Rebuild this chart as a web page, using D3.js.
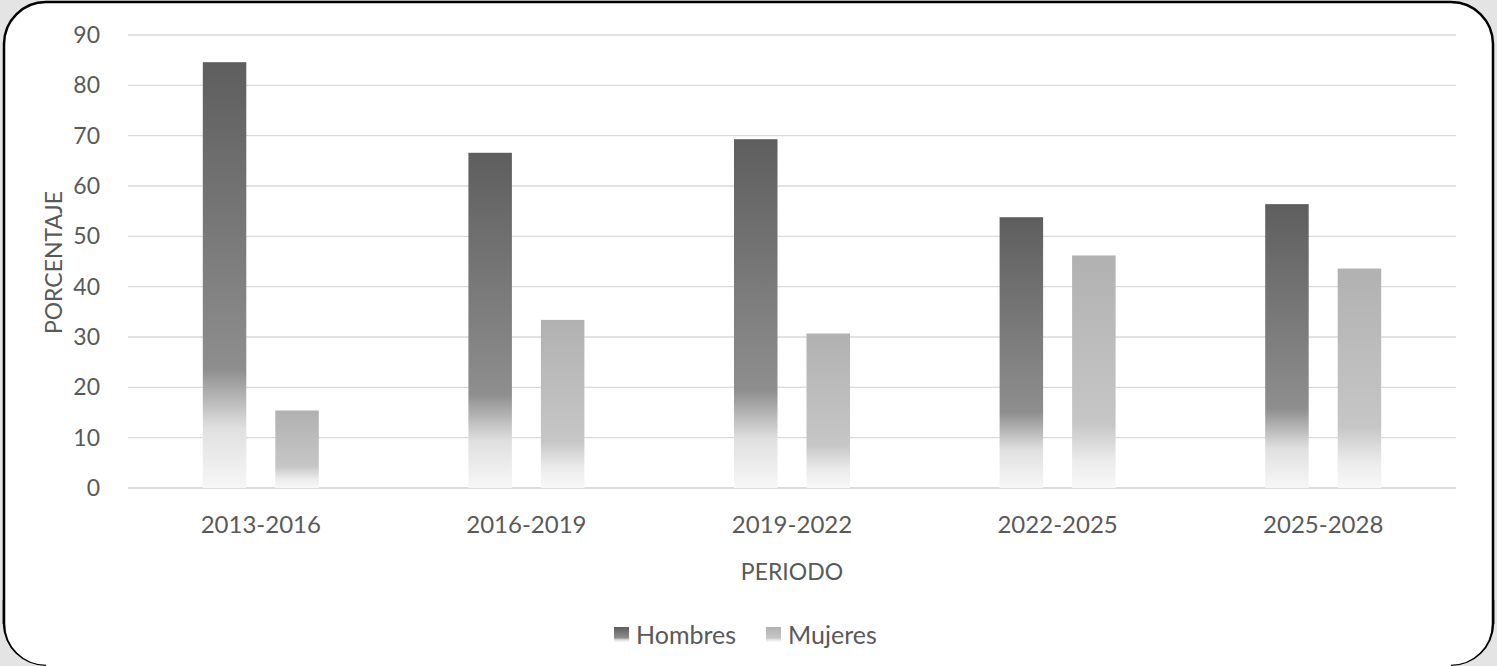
<!DOCTYPE html>
<meta charset="utf-8">
<script src="https://d3js.org/d3.v7.min.js"></script>
<style>
  body { margin: 0; background: #e4e4e4; }
  text { font-family: Lato, "Open Sans", sans-serif; fill: #595959; }
</style>
<div id="chart"></div>
<script>
  // data
  var periodos = ["2013-2016", "2016-2019", "2019-2022", "2022-2025", "2025-2028"];
  var series = ["Hombres", "Mujeres"];
  var hombres = [84.6, 66.6, 69.3, 53.8, 56.4];
  var mujeres = [15.4, 33.4, 30.7, 46.2, 43.6];
  var yTicks = [0, 10, 20, 30, 40, 50, 60, 70, 80, 90];

  var W = 1497, H = 666;
  var margin = { top: 35, right: 41, bottom: 178, left: 128 },
    width = W - margin.left - margin.right,
    height = H - margin.top - margin.bottom;

  var svg = d3.select("#chart").append("svg")
    .attr("width", W).attr("height", H);

  // gradients (dark at top, fading out at the bottom)
  var defs = svg.append("defs");
  var grads = {
    Hombres: [["0%", "#5e5e5e"], ["72%", "#8e8e8e"], ["86%", "#e0e0e0"], ["100%", "#f7f7f7"]],
    Mujeres: [["0%", "#b1b1b1"], ["72%", "#c6c6c6"], ["88%", "#ebebeb"], ["100%", "#f8f8f8"]]
  };
  series.forEach(function (s) {
    var g = defs.append("linearGradient").attr("id", "g-" + s)
      .attr("x1", 0).attr("y1", 0).attr("x2", 0).attr("y2", 1);
    grads[s].forEach(function (st) {
      g.append("stop").attr("offset", st[0]).attr("stop-color", st[1]);
    });
  });

  // card with rounded corners
  svg.append("rect")
    .attr("x", 4).attr("y", 2).attr("width", W - 8).attr("height", H + 30)
    .attr("rx", 42).attr("ry", 42)
    .attr("fill", "#fff").attr("stroke", "#000").attr("stroke-width", 2.5);
  svg.append("rect")
    .attr("x", 4).attr("y", 600).attr("width", W - 8).attr("height", 62)
    .attr("fill", "#fff");
  svg.append("path")
    .attr("d", "M4,600 V624 A42,42 0 0 0 46,666 M" + (W - 4) + ",600 V624 A42,42 0 0 1 " + (W - 46) + ",666")
    .attr("fill", "none").attr("stroke", "#000").attr("stroke-width", 2.5);
  // background outside the lower arcs
  svg.append("path")
    .attr("d", "M0,624 H2.75 A43.25,43.25 0 0 0 46,666 H0 Z M" + W + ",624 H" + (W - 2.75) + " A43.25,43.25 0 0 1 " + (W - 46) + ",666 H" + W + " Z")
    .attr("fill", "#e4e4e4");

  var g = svg.append("g")
    .attr("transform", "translate(" + margin.left + "," + margin.top + ")");

  var x = d3.scaleBand().domain(periodos).range([0, width]);
  var xIn = d3.scaleBand().domain(series).range([0, 116]).paddingInner(0.4);
  var y = d3.scaleLinear().domain([0, 90]).range([height, 0]);

  // gridlines
  g.selectAll(".grid").data(yTicks).enter().append("line")
    .attr("x1", 0).attr("x2", width)
    .attr("y1", function (d) { return y(d); })
    .attr("y2", function (d) { return y(d); })
    .attr("stroke", function (d) { return d === 0 ? "#d0d0d0" : "#d9d9d9"; })
    .attr("stroke-width", 1.3);

  // y tick labels
  g.selectAll(".ytick").data(yTicks).enter().append("text")
    .attr("x", -28)
    .attr("y", function (d) { return y(d); })
    .attr("dy", "0.35em")
    .attr("text-anchor", "end")
    .style("font-size", "23px")
    .text(function (d) { return d; });

  // bars
  var rows = periodos.map(function (p, i) {
    return { periodo: p, Hombres: hombres[i], Mujeres: mujeres[i] };
  });
  var groups = g.selectAll(".grp").data(rows).enter().append("g")
    .attr("transform", function (d) {
      return "translate(" + (x(d.periodo) + (x.bandwidth() - 116) / 2) + ",0)";
    });
  groups.selectAll("rect")
    .data(function (d) { return series.map(function (s) { return { s: s, v: d[s] }; }); })
    .enter().append("rect")
    .attr("x", function (d) { return xIn(d.s); })
    .attr("width", xIn.bandwidth())
    .attr("y", function (d) { return y(d.v); })
    .attr("height", function (d) { return height - y(d.v); })
    .attr("fill", function (d) { return "url(#g-" + d.s + ")"; });

  // x tick labels
  g.selectAll(".xtick").data(periodos).enter().append("text")
    .attr("x", function (d) { return x(d) + x.bandwidth() / 2; })
    .attr("y", height + 45)
    .attr("text-anchor", "middle")
    .style("font-size", "24px")
    .text(function (d) { return d; });

  // axis titles
  g.append("text")
    .attr("x", width / 2).attr("y", height + 92)
    .attr("text-anchor", "middle")
    .style("font-size", "23px")
    .text("PERIODO");
  g.append("text")
    .attr("transform", "translate(-66," + (height / 2 + 1) + ") rotate(-90)")
    .attr("text-anchor", "middle")
    .style("font-size", "23px")
    .text("PORCENTAJE");

  // legend
  var legend = svg.append("g").attr("transform", "translate(614,627)");
  var lx = [0, 152];
  series.forEach(function (s, i) {
    legend.append("rect")
      .attr("x", lx[i]).attr("y", 0).attr("width", 15).attr("height", 15)
      .attr("fill", "url(#g-" + s + ")");
    legend.append("text")
      .attr("x", lx[i] + 22).attr("y", 8).attr("dy", "0.35em")
      .style("font-size", "25px")
      .text(s);
  });
</script>
